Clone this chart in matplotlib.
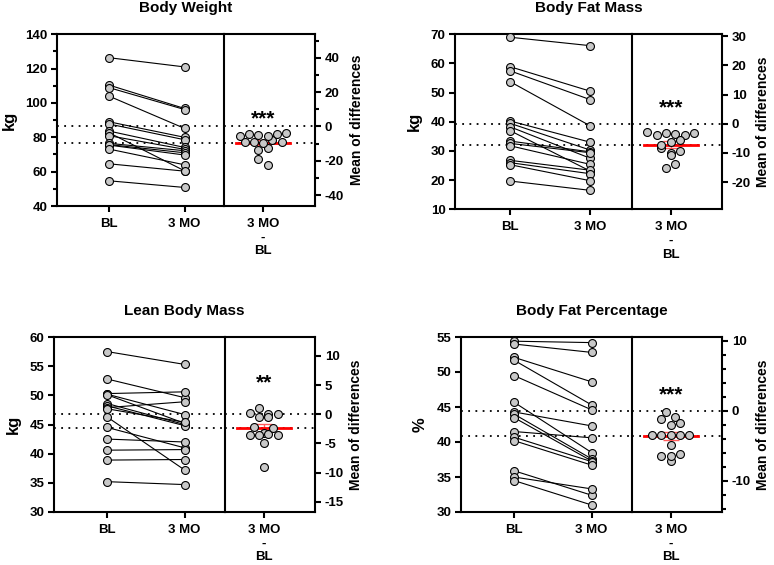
import numpy as np
import matplotlib
matplotlib.use('Agg')
import matplotlib.pyplot as plt
from matplotlib.ticker import MultipleLocator

plt.rcParams['font.family'] = ['Liberation Sans', 'DejaVu Sans']
plt.rcParams['font.weight'] = 'bold'
plt.rcParams['axes.unicode_minus'] = False

# paired values (15 subjects)
bw_bl = [126.4, 110.5, 109.0, 104.1, 89.1, 87.8, 83.7, 82.8, 81.0, 76.5, 75.8, 75.5, 73.2, 64.6, 54.7]
bw_3mo = [121.0, 96.8, 96.2, 85.2, 80.0, 78.6, 74.1, 60.5, 73.0, 72.2, 71.0, 69.7, 64.0, 60.3, 50.8]

bfm_bl = [69.0, 58.9, 57.5, 53.8, 40.3, 39.5, 38.3, 37.0, 33.4, 32.6, 31.8, 26.8, 26.0, 25.3, 19.7]
bfm_3mo = [66.1, 50.5, 47.6, 38.6, 33.0, 30.3, 27.5, 23.1, 29.7, 29.4, 25.4, 23.4, 22.2, 19.8, 16.5]

lbm_bl = [57.5, 52.8, 50.3, 50.2, 50.1, 48.6, 48.2, 47.9, 47.7, 46.3, 44.5, 42.5, 40.6, 38.9, 35.2]
lbm_3mo = [55.3, 49.6, 50.6, 46.7, 45.2, 45.0, 44.8, 48.9, 45.4, 37.2, 41.0, 42.0, 40.7, 39.0, 34.7]

bfp_bl = [54.4, 54.0, 52.1, 51.7, 49.5, 45.7, 44.3, 44.0, 43.5, 41.5, 40.7, 40.2, 35.9, 35.0, 34.5]
bfp_3mo = [54.2, 52.8, 48.6, 45.3, 44.6, 38.5, 42.3, 37.6, 37.3, 40.6, 37.2, 36.7, 32.4, 33.3, 31.0]

groups = ['BL', '3 MO']
diff_label = '3 MO\n-\nBL'

W, H = 774, 565

# title, ylabel, bl, 3mo, ylim, left major/minor, right major/minor, stars, star y, box px
panels = [
    ('Body Weight', 'kg', bw_bl, bw_3mo, (40, 140), 20, 10, 20, 10, '***', 6.5,
     (57, 224, 315, 34.3, 206)),
    ('Body Fat Mass', 'kg', bfm_bl, bfm_3mo, (10, 70), 10, None, 10, None, '***', 6.5,
     (455.3, 632, 722, 34.3, 209.3)),
    ('Lean Body Mass', 'kg', lbm_bl, lbm_3mo, (30, 60), 5, None, 5, None, '**', 5.9,
     (54.3, 225, 315, 337, 512)),
    ('Body Fat Percentage', '%', bfp_bl, bfp_3mo, (30, 55), 5, None, 10, 2, '***', 2.7,
     (461, 632, 722, 337, 512)),
]

fill = '#C8C8C8'


def rows_swarm(ax, vals, xc, gap):
    # Prism-like: points grouped in rows of about one marker height, spread evenly
    tr = ax.transData
    vals = np.asarray(vals)
    px = tr.transform(np.column_stack([np.full(len(vals), xc), vals]))
    x0 = px[0, 0]
    ys = px[:, 1]
    xs = np.full(len(vals), x0)
    order = np.argsort(-ys)
    rows = []
    for i in order:
        if rows and ys[rows[-1][0]] - ys[i] < gap * 0.75:
            rows[-1].append(i)
        else:
            rows.append([i])
    for row in rows:
        row = sorted(row)
        n = len(row)
        for k, i in enumerate(row):
            xs[i] = x0 + (k - (n - 1) / 2.0) * gap
    back = tr.inverted().transform(np.column_stack([xs, ys]))
    return back[:, 0]


def style(ax):
    for s in ax.spines.values():
        s.set_linewidth(1.5)
    ax.tick_params(which='major', length=4.5, width=1.5, labelsize=9.5, pad=2.5)
    ax.tick_params(which='minor', length=3, width=1.5)
    ax.tick_params(axis='x', pad=4)


fig = plt.figure(figsize=(W / 100, H / 100), dpi=100)

for (title, ylab, bl, mo, ylim, lmaj, lmin, rmaj, rmin, stars, stary, box) in panels:
    l, d, r, t, b = box
    bl = np.array(bl)
    mo = np.array(mo)
    diff = mo - bl
    m_bl = bl.mean()
    m_d = diff.mean()
    sem = diff.std(ddof=1) / np.sqrt(len(diff))

    ax = fig.add_axes([l / W, 1 - b / H, (d - l) / W, (b - t) / H])
    ax2 = fig.add_axes([d / W, 1 - b / H, (r - d) / W, (b - t) / H])

    # left part: paired values
    ax.set_xlim(-0.68, 1.52)
    ax.set_ylim(*ylim)
    for a, c in zip(bl, mo):
        ax.plot([0, 1], [a, c], color='black', lw=0.8, zorder=2)
    ax.plot(np.zeros(len(bl)), bl, 'o', ms=5.7, mfc=fill, mec='black', mew=0.8, zorder=3, clip_on=False)
    ax.plot(np.ones(len(mo)), mo, 'o', ms=5.7, mfc=fill, mec='black', mew=0.8, zorder=3, clip_on=False)
    ax.axhline(m_bl, color='black', lw=1.3, ls=(0, (1, 3)), zorder=1)
    ax.axhline(m_bl + m_d, color='black', lw=1.3, ls=(0, (1, 3)), zorder=1)
    ax.set_xticks([0, 1])
    ax.set_xticklabels(groups)
    ax.yaxis.set_major_locator(MultipleLocator(lmaj))
    if lmin:
        ax.yaxis.set_minor_locator(MultipleLocator(lmin))
    ax.spines['right'].set_visible(False)
    ax.set_ylabel(ylab, fontsize=12, fontweight='bold', labelpad=6)
    style(ax)

    # right part: differences on shifted axis
    ax2.set_xlim(-0.43, 0.57)
    ax2.set_ylim(ylim[0] - m_bl, ylim[1] - m_bl)
    ax2.axhline(0, color='black', lw=1.3, ls=(0, (1, 3)), zorder=1)
    ax2.axhline(m_d, color='black', lw=1.3, ls=(0, (1, 3)), zorder=1)
    xs = rows_swarm(ax2, diff, 0, 9.3)
    ax2.errorbar([0], [m_d], yerr=[sem], color='#FF5A5A', lw=1, capsize=6, capthick=1, zorder=2)
    ax2.plot([-0.3, 0.3], [m_d, m_d], color='red', lw=2, zorder=2)
    ax2.plot(xs, diff, 'o', ms=5.7, mfc=fill, mec='black', mew=0.8, zorder=3, clip_on=False)
    ax2.annotate(stars, (0, stary), xytext=(0, -2.5), textcoords='offset points',
                 ha='center', va='center', fontsize=15, fontweight='bold')
    ax2.set_xticks([0])
    ax2.set_xticklabels([diff_label], linespacing=1.2)
    ax2.yaxis.tick_right()
    ax2.yaxis.set_label_position('right')
    ax2.yaxis.set_major_locator(MultipleLocator(rmaj))
    if rmin:
        ax2.yaxis.set_minor_locator(MultipleLocator(rmin))
    ax2.set_ylabel('Mean of differences', fontsize=10, fontweight='bold', labelpad=4)
    style(ax2)

    fig.text((l + r) / 2 / W, 1 - (t - 26) / H, title, ha='center', va='center',
             fontsize=11, fontweight='bold')

fig.savefig('out.png', dpi=100)
